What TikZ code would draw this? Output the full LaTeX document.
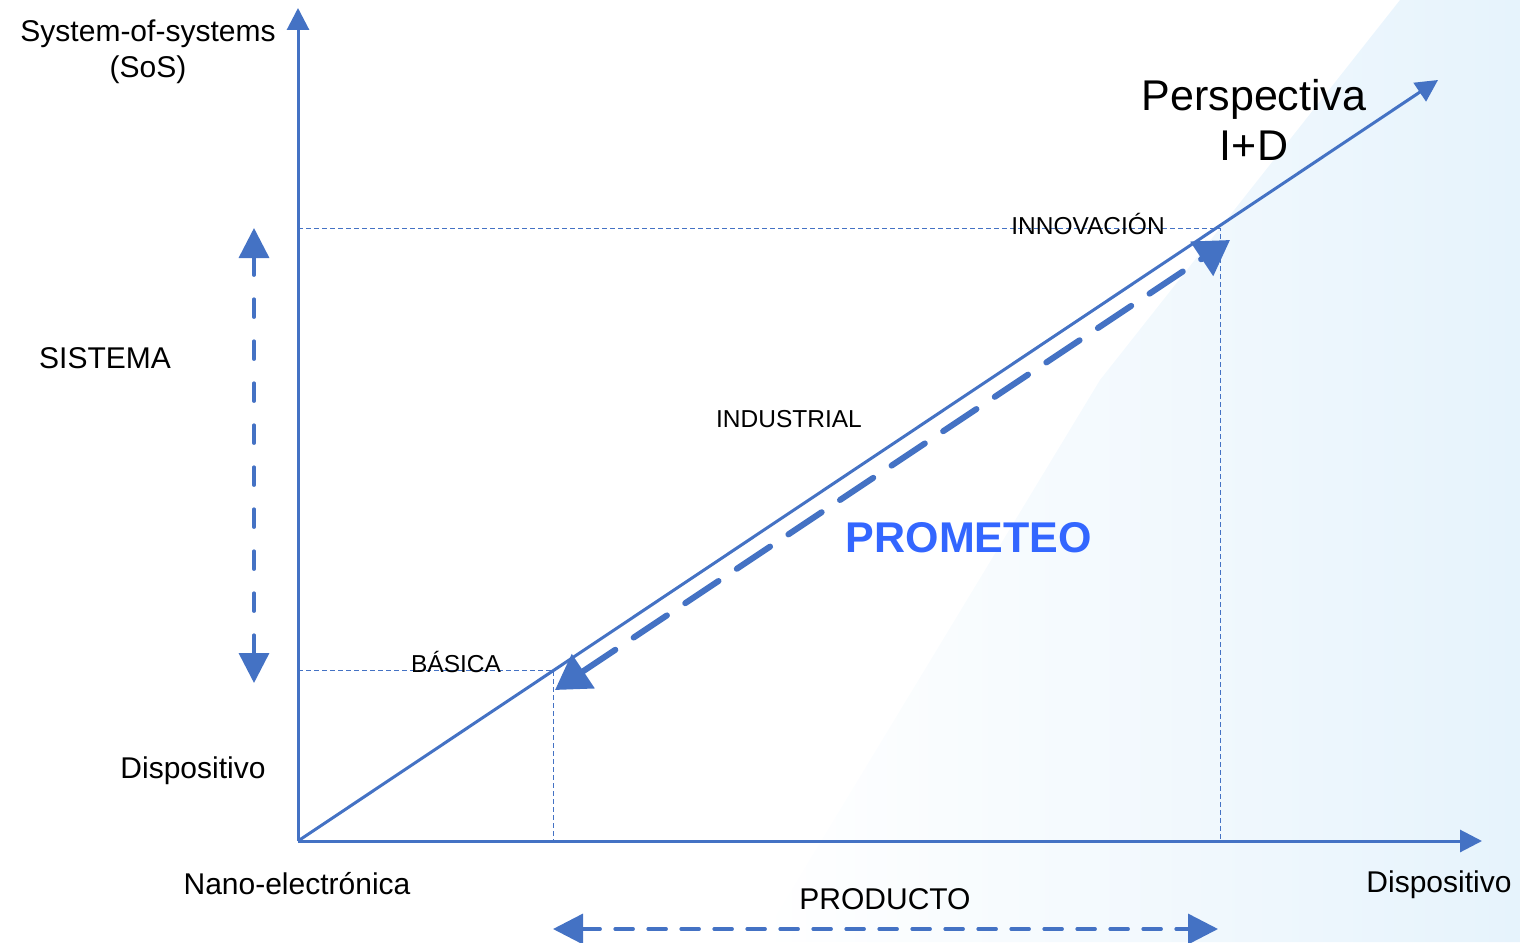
\documentclass[tikz,border=0pt]{standalone}
\usepackage{fontspec}
\setmainfont{Liberation Sans}
\usetikzlibrary{arrows.meta}
\definecolor{lb}{HTML}{4472C4}
\definecolor{pb}{HTML}{3366FF}
\definecolor{bgb}{HTML}{E6F3FC}
\tikzset{
  axis/.style={draw=lb, line width=3pt, -{Triangle[length=22pt,width=22pt]}},
  guide/.style={draw=lb, line width=1pt, dash pattern=on 5pt off 3pt},
  bigdash/.style={draw=lb, line width=6pt, line cap=round, dash pattern=on 40pt off 22pt,
    {Triangle[length=34pt,width=40pt]}-{Triangle[length=34pt,width=40pt]}},
  middash/.style={draw=lb, line width=3.5pt, line cap=round,
    {Triangle[length=30pt,width=30pt]}-{Triangle[length=30pt,width=30pt]}},
  lbl/.style={font=\fontsize{30}{36}\selectfont, text=black, inner sep=0pt},
  small/.style={font=\fontsize{24.5}{29}\selectfont, text=black, inner sep=0pt},
}
\begin{document}
\begin{tikzpicture}[x=1pt,y=-1pt]
\useasboundingbox (0,0) rectangle (1520,942);
\shade[left color=white, middle color=white, right color=bgb] (1400,0) -- (1520,0) -- (1520,942) -- (760,942) -- (1100,380) -- cycle;
% coordinates
\coordinate (o) at (298,841);
\coordinate (ytop) at (298,8);
\coordinate (xend) at (1482,841);
\coordinate (dtip) at (1438,80);
\coordinate (innL) at (298,228);
\coordinate (innR) at (1220,228);
\coordinate (innB) at (1220,841);
\coordinate (basL) at (298,670);
\coordinate (basR) at (553,670);
\coordinate (basB) at (553,841);
\coordinate (pa) at (555,690);
\coordinate (pz) at (1230,240);
\coordinate (sa) at (254,228);
\coordinate (sb) at (254,683);
\coordinate (ha) at (553,929);
\coordinate (hb) at (1218,929);
% guides
\draw[guide] (innL) -- (innR) -- (innB);
\draw[guide] (basL) -- (basR) -- (basB);
% axes
\draw[axis] (o) -- (ytop);
\draw[axis] (o) -- (xend);
\draw[axis] (o) -- (dtip);
% dashed arrows
\draw[bigdash] (pa) -- (pz);
\draw[middash, dash pattern=on 18pt off 24pt] (sa) -- (sb);
\draw[middash, dash pattern=on 18pt off 15pt] (ha) -- (hb);
% labels
\node[lbl, align=center] (sos) at (148,52) {System-of-systems\\(SoS)};
\node[lbl] (sis) at (105,358) {SISTEMA};
\node[lbl] (disl) at (193,771) {Dispositivo};
\node[lbl] (nano) at (297,884) {Nano-electrónica};
\node[lbl] (disr) at (1439,885) {Dispositivo};
\node[lbl] (prod) at (885,899) {PRODUCTO};
\node[small] (ind) at (789,419) {INDUSTRIAL};
\node[small] (inn) at (1088,224) {INNOVACIÓN};
\node[small] (bas) at (456,662) {BÁSICA};
\node[inner sep=0pt, text=pb, font=\fontsize{43}{50}\selectfont\bfseries] (prom) at (969,538) {PROMETEO};
\node[inner sep=0pt, align=center, font=\fontsize{43}{50}\selectfont] (pers) at (1254,120) {Perspectiva\\I+D};
\end{tikzpicture}
\end{document}
